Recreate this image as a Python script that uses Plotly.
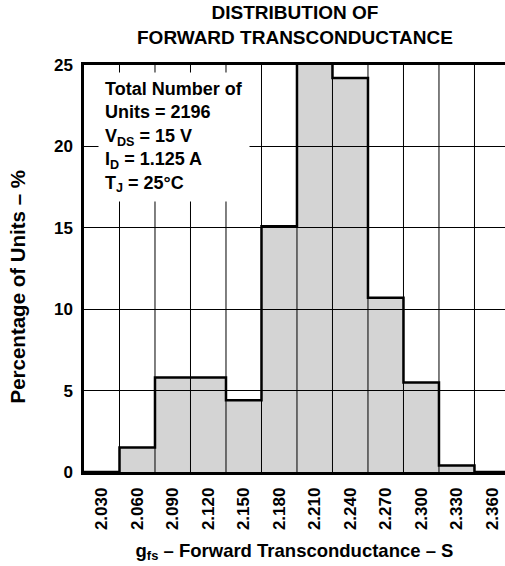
import plotly.graph_objects as go

# Data
bin_centers = [2.030, 2.060, 2.090, 2.120, 2.150, 2.180, 2.210, 2.240, 2.270, 2.300, 2.330, 2.360]
percent = [0.0, 1.5, 5.8, 5.8, 4.4, 15.1, 26.5, 24.2, 10.7, 5.5, 0.4, 0.0]
tick_labels = ["2.030", "2.060", "2.090", "2.120", "2.150", "2.180",
               "2.210", "2.240", "2.270", "2.300", "2.330", "2.360"]
bin_width = 0.030
y_ticks = [0, 5, 10, 15, 20, 25]

FONT = "Liberation Sans, Arial, Helvetica, sans-serif"

# stair-step outline built from bin edges
edges = [c - bin_width / 2 for c in bin_centers] + [bin_centers[-1] + bin_width / 2]
step_x = edges
step_y = percent + [percent[-1]]

fig = go.Figure()
fig.add_trace(go.Bar(
    x=bin_centers, y=percent, width=[bin_width] * len(bin_centers),
    marker=dict(color="rgba(0,0,0,0.17)", line=dict(width=0)),
    hoverinfo="skip", showlegend=False,
))
fig.add_trace(go.Scatter(
    x=step_x, y=step_y, mode="lines", line=dict(color="black", width=2.5, shape="hv"),
    hoverinfo="skip", showlegend=False,
))

x0 = bin_centers[0] - bin_width / 2
x1 = x0 + bin_width * 11.86

fig.update_layout(
    width=505, height=566,
    margin=dict(l=84, r=0, t=65, b=94),
    plot_bgcolor="white", paper_bgcolor="white",
    font=dict(family=FONT, color="black", weight="bold"),
    bargap=0,
    xaxis=dict(
        range=[x0, x1],
        tickmode="array", tickvals=bin_centers, ticktext=tick_labels,
        tickangle=-90, tickfont=dict(size=17, weight="bold"),
        ticks="", ticklabelstandoff=6,
        showgrid=False, zeroline=False,
        showline=True, linecolor="black", linewidth=2.5, mirror=True,
        title=dict(text="g<sub>fs</sub> – Forward Transconductance – S",
                   font=dict(size=18.5, weight="bold"), standoff=15),
    ),
    yaxis=dict(
        range=[0, 25],
        tickmode="array", tickvals=y_ticks,
        tickfont=dict(size=17, weight="bold"),
        ticks="", ticklabelstandoff=5,
        showgrid=True, gridcolor="black", gridwidth=1,
        zeroline=False,
        showline=True, linecolor="black", linewidth=2.5, mirror=False,
    ),
)

# vertical grid lines at bin edges (drawn below traces)
for e in edges[1:-1]:
    fig.add_shape(type="line", x0=e, x1=e, y0=0, y1=1, xref="x", yref="paper",
                  line=dict(color="black", width=1), layer="below")

# title
fig.add_annotation(
    x=0.5, y=1, xref="paper", yref="paper", xanchor="center", yanchor="bottom",
    yshift=15, showarrow=False, align="center",
    text="DISTRIBUTION OF<br>FORWARD TRANSCONDUCTANCE",
    font=dict(size=19, family=FONT, weight="bold"),
)

# y-axis title
fig.add_annotation(
    x=0, y=0.5, xref="paper", yref="paper", xanchor="center", yanchor="middle",
    xshift=-67, yshift=-18, showarrow=False, textangle=-90,
    text="Percentage of Units – %",
    font=dict(size=20.5, family=FONT, weight="bold"),
)

fig.add_annotation(
    x=2.0268, y=24.6, xref="x", yref="y",
    xanchor="left", yanchor="top", align="left", showarrow=False,
    text="Total Number of<br>Units = 2196<br>V<sub>DS</sub> = 15 V<br>I<sub>D</sub> = 1.125 A<br>T<sub>J</sub> = 25°C",
    font=dict(size=18, family=FONT, weight="bold"),
    bgcolor="white", borderpad=6,
)

fig.write_html("out.html")
